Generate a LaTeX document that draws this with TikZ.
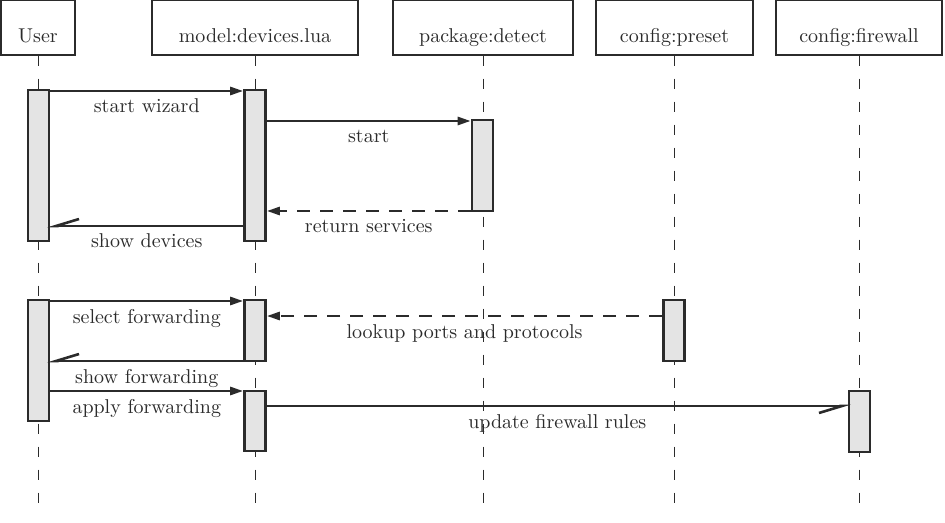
\documentclass[tikz,border=0pt]{standalone}
\usetikzlibrary{arrows.meta}
\definecolor{ink}{HTML}{2B2B2B}
\definecolor{actfill}{HTML}{E4E4E4}
\begin{document}
\begin{tikzpicture}[x=0.5pt,y=-0.5pt,
  head/.style={draw=ink, line width=0.6pt, rectangle, inner sep=0pt,
    minimum height=27.25pt, text height=14.5pt, text depth=0pt, text=ink},
  life/.style={draw=ink, line width=0.5pt, dash pattern=on 5pt off 6.5pt},
  act/.style={draw=ink, fill=actfill, line width=1.3pt, rectangle, inner sep=0pt, minimum width=10.5pt},
  msg/.style={draw=ink, line width=1.3pt},
  call/.style={msg, -{Triangle[length=6.5pt,width=4pt]}},
  reply/.style={msg, dash pattern=on 6.5pt off 5pt, -{Triangle[length=6.5pt,width=4pt]}},
  half/.style={msg, shorten >=-1.5pt, -{Straight Barb[length=11.5pt,width=7pt,harpoon,swap]}},
  lbl/.style={midway, anchor=base, yshift=-11pt, text=ink, inner sep=0pt}
]
\useasboundingbox (0,0) rectangle (945,523);

% headers
\node[head, minimum width=37pt]   (user) at (38,27.75)  {User};
\node[head, minimum width=103pt]  (model) at (255,27.75) {model:devices.lua};
\node[head, minimum width=90pt]   (pkg) at (483,27.75)   {package:detect};
\node[head, minimum width=78.5pt] (preset) at (674.5,27.75) {config:preset};
\node[head, minimum width=83pt]   (fw) at (859,27.75)    {config:firewall};

% lifelines
\foreach \n in {user,model,pkg,preset,fw}{
  \draw[life] (\n.south) -- (\n.south |- 0,512);
}

% activations
\node[act, minimum height=75.5pt] (u1) at (38.5,165.5) {};
\node[act, minimum height=75.5pt] (m1) at (255,165.5) {};
\node[act, minimum height=45.5pt] (p1) at (482.5,165.5) {};
\node[act, minimum height=60.5pt] (u2) at (38.5,360.5) {};
\node[act, minimum height=30.5pt] (m2) at (255,330.5) {};
\node[act, minimum height=30.5pt] (r1) at (674,330.5) {};
\node[act, minimum height=30pt]   (m3) at (255,421) {};
\node[act, minimum height=30.5pt] (f1) at (859.5,421.5) {};

% messages
\draw[call]  (u1.east |- 0,91)  -- (m1.west |- 0,91)  node[lbl] {start wizard};
\draw[call]  (m1.east |- 0,121) -- (p1.west |- 0,121) node[lbl] {start};
\draw[reply] (p1.west |- 0,211) -- (m1.east |- 0,211) node[lbl] {return services};
\draw[half]  (m1.west |- 0,226) -- (u1.east |- 0,226) node[lbl] {show devices};
\draw[call]  (u2.east |- 0,301) -- (m2.west |- 0,301) node[lbl] {select forwarding};
\draw[reply] (r1.west |- 0,316) -- (m2.east |- 0,316) node[lbl] {lookup ports and protocols};
\draw[half]  (m2.west |- 0,361) -- (u2.east |- 0,361) node[lbl] {show forwarding};
\draw[call]  (u2.east |- 0,391) -- (m3.west |- 0,391) node[lbl] {apply forwarding};
\draw[half]  (m3.east |- 0,406) -- (f1.west |- 0,406) node[lbl] {update firewall rules};
\end{tikzpicture}
\end{document}
